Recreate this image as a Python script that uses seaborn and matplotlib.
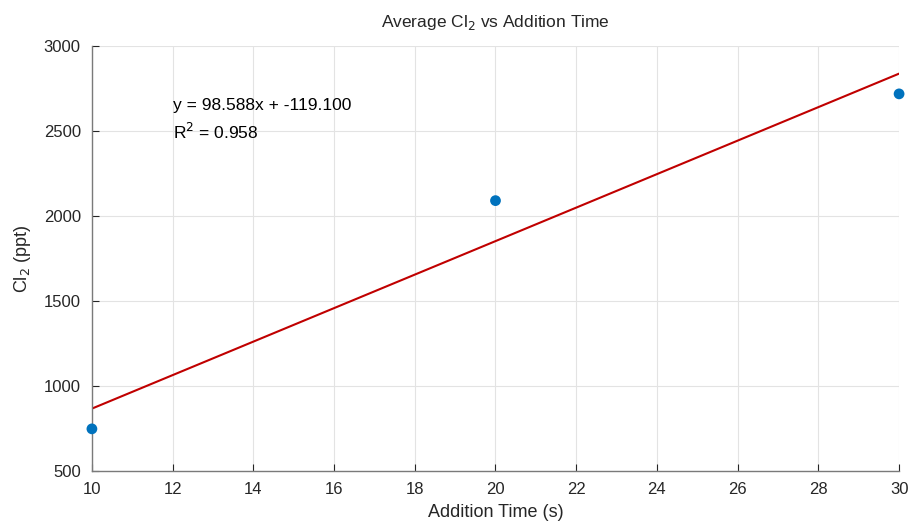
import numpy as np
import pandas as pd
import matplotlib
matplotlib.use("Agg")
import matplotlib.pyplot as plt
import seaborn as sns

# Measured averages
addition_time = [10, 20, 30]
cl2_ppt = [747.6, 2091.02, 2719.36]

df = pd.DataFrame({"time": addition_time, "cl2": cl2_ppt})

# Linear fit
slope, intercept = np.polyfit(df["time"], df["cl2"], 1)
pred = slope * df["time"] + intercept
r2 = 1 - ((df["cl2"] - pred) ** 2).sum() / ((df["cl2"] - df["cl2"].mean()) ** 2).sum()
fit_df = pd.DataFrame({"time": df["time"], "fit": pred})

sns.set_theme(style="whitegrid")
plt.rcParams["font.family"] = ["Liberation Sans", "DejaVu Sans"]

fig, ax = plt.subplots(figsize=(9.1, 5.25), dpi=100)
fig.subplots_adjust(left=0.101, right=0.988, top=0.912, bottom=0.103)

sns.lineplot(data=fit_df, x="time", y="fit", color="#c00000", linewidth=1.5, ax=ax)
sns.scatterplot(data=df, x="time", y="cl2", color="#0072BD", s=60, edgecolor="none",
                ax=ax, zorder=3, clip_on=False)

ax.set_xlim(10, 30)
ax.set_ylim(500, 3000)
ax.set_xticks(range(10, 31, 2))
ax.set_yticks(range(500, 3001, 500))

ax.grid(True, color="#e3e3e3", linewidth=0.8)
ax.set_facecolor("white")
for side in ["top", "right"]:
    ax.spines[side].set_visible(False)
for side in ["left", "bottom"]:
    ax.spines[side].set_visible(True)
    ax.spines[side].set_color("#7a7a7a")
    ax.spines[side].set_linewidth(1.0)

ax.tick_params(axis="both", direction="in", length=5, width=0.8, color="#262626",
               labelsize=12, labelcolor="#262626", left=True, bottom=True, pad=8)

ax.set_xlabel("Addition Time (s)", fontsize=13, color="#262626", labelpad=5)
ax.set_ylabel("Cl$_2$ (ppt)", fontsize=13, color="#262626", labelpad=8)
ax.set_title("Average Cl$_2$ vs Addition Time", fontsize=12.5, color="#262626", pad=14)

# fit annotation
ax.text(12, 2650, f"y = {slope:.3f}x + {intercept:.3f}",
        fontsize=12.5, color="black", va="center", ha="left")
ax.text(12, 2495, f"R$^2$ = {r2:.3f}",
        fontsize=12.5, color="black", va="center", ha="left")

fig.savefig("out.png", dpi=100)
